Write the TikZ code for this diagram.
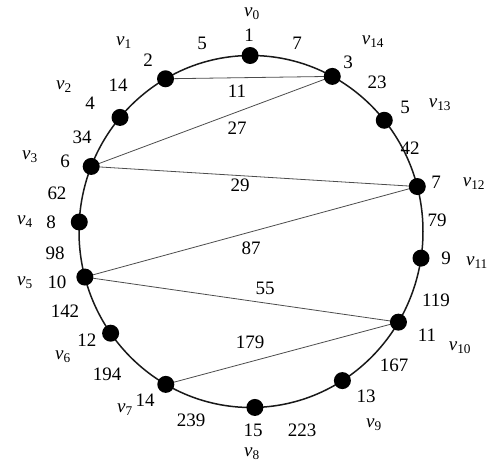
\documentclass[tikz,border=0pt]{standalone}
\usepackage{fontspec}
\setmainfont{Liberation Serif}
\newcommand{\vlab}[1]{{\itshape v}\textsubscript{#1}}
\begin{document}
\begin{tikzpicture}[x=1pt,y=-1pt,
  dotnode/.style={circle,fill=black,inner sep=0pt,minimum size=17pt},
  chord/.style={line width=0.8pt,draw=black!70},
  rim/.style={line width=1.5pt,draw=black!90},
  txt/.style={inner sep=0pt,font=\fontsize{19}{22}\selectfont}]
\useasboundingbox (0,0) rectangle (499,466);
\coordinate (c) at (251,231.5);
\foreach \n/\a in {0/-90.3,1/-119.8,2/-139.6,3/-158.3,4/-176.9,5/165,6/144.7,7/119.7,8/88.7,9/57.9,10/31,11/8.7,12/-14.8,13/-39.2,14/-61.8}
  \coordinate (p\n) at ({251+172*cos(\a)},{231.5+176*sin(\a)});
\draw[rim] (c) ellipse [x radius=172, y radius=176];
\draw[chord] (p1) -- (p14);
\draw[chord] (p3) -- (p14);
\draw[chord] (p3) -- (p12);
\draw[chord] (p5) -- (p12);
\draw[chord] (p5) -- (p10);
\draw[chord] (p7) -- (p10);
\foreach \n in {0,...,14} \node[dotnode] (v\n) at (p\n) {};
% chord weights
\node[txt] (w11) at (237,91) {11};
\node[txt] (w27) at (237,128) {27};
\node[txt] (w29) at (240,185) {29};
\node[txt] (w87) at (251,248) {87};
\node[txt] (w55) at (265,288) {55};
\node[txt] (w179) at (250,342) {179};
% vertex names and numbers
\node[txt] (n0) at (252,14) {\vlab{0}};
\node[txt] (k0) at (249,35) {1};
\node[txt] (n1) at (124,43) {\vlab{1}};
\node[txt] (k1) at (148,60) {2};
\node[txt] (n14) at (373,42) {\vlab{14}};
\node[txt] (k14) at (348,62) {3};
\node[txt] (n2) at (64,87) {\vlab{2}};
\node[txt] (k2) at (90,103) {4};
\node[txt] (n13) at (440,105) {\vlab{13}};
\node[txt] (k13) at (405,107) {5};
\node[txt] (n3) at (30,157) {\vlab{3}};
\node[txt] (k3) at (65,161) {6};
\node[txt] (n12) at (474,184) {\vlab{12}};
\node[txt] (k12) at (436,182) {7};
\node[txt] (n4) at (25,222) {\vlab{4}};
\node[txt] (k4) at (51,222) {8};
\node[txt] (n11) at (477,263) {\vlab{11}};
\node[txt] (k11) at (446,258) {9};
\node[txt] (n5) at (25,283) {\vlab{5}};
\node[txt] (k5) at (57,282) {10};
\node[txt] (n10) at (460,348) {\vlab{10}};
\node[txt] (k10) at (427,335) {11};
\node[txt] (n6) at (63,357) {\vlab{6}};
\node[txt] (k6) at (87,340) {12};
\node[txt] (n9) at (374,425) {\vlab{9}};
\node[txt] (k9) at (366,396) {13};
\node[txt] (n7) at (125,410) {\vlab{7}};
\node[txt] (k7) at (145,400) {14};
\node[txt] (n8) at (252,454) {\vlab{8}};
\node[txt] (k8) at (253,430) {15};
% arc weights
\node[txt] (a01) at (202,43) {5};
\node[txt] (a014) at (297,43) {7};
\node[txt] (a12) at (118,85) {14};
\node[txt] (a1413) at (377,82) {23};
\node[txt] (a23) at (82,137) {34};
\node[txt] (a1312) at (410,148) {42};
\node[txt] (a34) at (57,193) {62};
\node[txt] (a1211) at (437,220) {79};
\node[txt] (a45) at (55,253) {98};
\node[txt] (a1110) at (436,300) {119};
\node[txt] (a56) at (65,311) {142};
\node[txt] (a109) at (394,365) {167};
\node[txt] (a67) at (107,374) {194};
\node[txt] (a78) at (191,420) {239};
\node[txt] (a98) at (302,430) {223};
\end{tikzpicture}
\end{document}
